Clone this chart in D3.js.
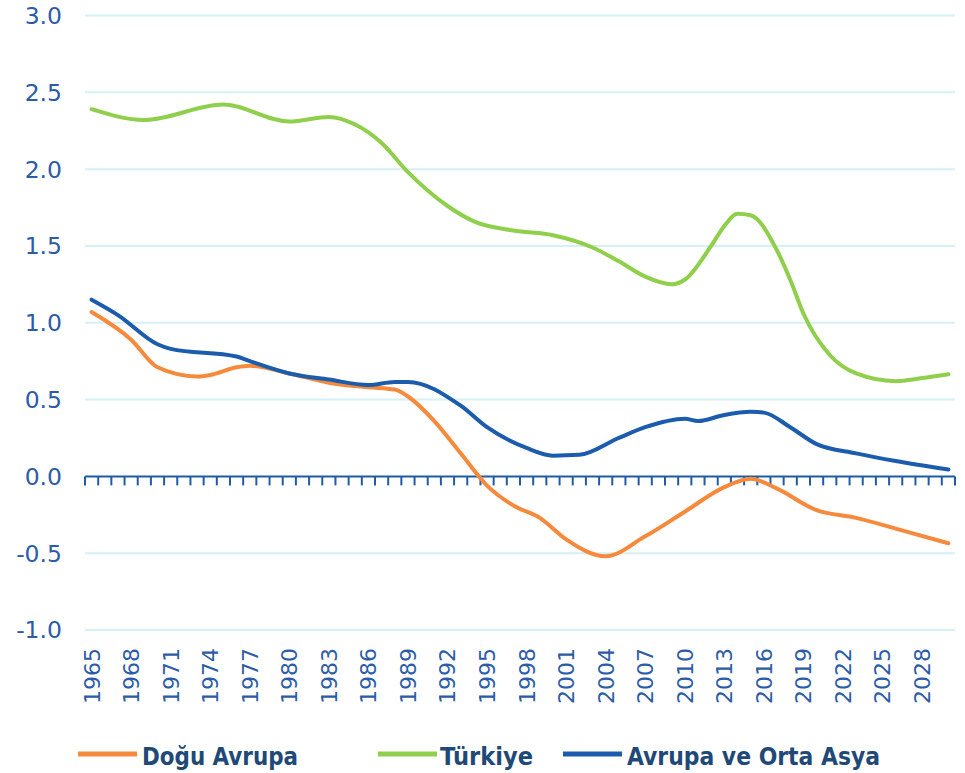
<!DOCTYPE html>
<html>
<head>
<meta charset="utf-8">
<script src="https://cdn.jsdelivr.net/npm/d3@7.9.0/dist/d3.min.js"></script>
<style>
  body { margin: 0; background: #fff; }
  svg { display: block; }
</style>
</head>
<body>
<div id="chart"></div>
<script>
// data (year -> value)
const years = d3.range(1965, 2031);
const xLabels = d3.range(1965, 2029, 3);
const yTicks = [-1, -0.5, 0, 0.5, 1, 1.5, 2, 2.5, 3];

const doguYears = [1965, 1968, 1970, 1973, 1974, 1976, 1977, 1980, 1983, 1986, 1988, 1989, 1991, 1993, 1995, 1997, 1999, 2001, 2004, 2007, 2010, 2013, 2015, 2017, 2020, 2023, 2026, 2030];
const doguValues = [1.07, 0.89, 0.71, 0.65, 0.66, 0.71, 0.72, 0.67, 0.61, 0.58, 0.565, 0.52, 0.36, 0.15, -0.06, -0.19, -0.27, -0.41, -0.52, -0.39, -0.23, -0.07, -0.015, -0.08, -0.22, -0.27, -0.34, -0.435];

const turkYears = [1965, 1969, 1975, 1980, 1983, 1985, 1987, 1989, 1992, 1994, 1997, 2000, 2003, 2005, 2007, 2009, 2010, 2012, 2013, 2014, 2015, 2017, 2018, 2019, 2021, 2023, 2026, 2028, 2030];
const turkValues = [2.39, 2.32, 2.42, 2.31, 2.34, 2.29, 2.17, 1.98, 1.76, 1.66, 1.6, 1.57, 1.49, 1.4, 1.3, 1.25, 1.28, 1.5, 1.63, 1.71, 1.7, 1.47, 1.28, 1.06, 0.79, 0.67, 0.62, 0.64, 0.665];

const aoaYears = [1965, 1967, 1970, 1971, 1976, 1977, 1980, 1983, 1986, 1988, 1989, 1993, 1995, 1998, 2000, 2002, 2005, 2007, 2010, 2011, 2013, 2015, 2016, 2018, 2020, 2023, 2026, 2030];
const aoaValues = [1.15, 1.05, 0.86, 0.83, 0.78, 0.75, 0.67, 0.63, 0.595, 0.615, 0.615, 0.46, 0.32, 0.185, 0.135, 0.14, 0.25, 0.32, 0.375, 0.36, 0.4, 0.42, 0.415, 0.32, 0.21, 0.15, 0.1, 0.045];

const seriesNames = ['Doğu Avrupa', 'Türkiye', 'Avrupa ve Orta Asya'];
const seriesColors = ['#f68a3c', '#8fcf4c', '#1b5cad'];

const series = [
  { name: seriesNames[0], color: seriesColors[0], pts: doguYears.map((y, i) => ({ year: y, v: doguValues[i] })) },
  { name: seriesNames[1], color: seriesColors[1], pts: turkYears.map((y, i) => ({ year: y, v: turkValues[i] })) },
  { name: seriesNames[2], color: seriesColors[2], pts: aoaYears.map((y, i) => ({ year: y, v: aoaValues[i] })) },
];

const width = 965;
const height = 773;
const plot = { left: 85, right: 955, top: 15.5, bottom: 630 };

const svg = d3.select('#chart').append('svg')
  .attr('width', width)
  .attr('height', height);

const x = d3.scaleBand().domain(years).range([plot.left, plot.right]).padding(0);
const y = d3.scaleLinear().domain([-1, 3]).range([plot.bottom, plot.top]);
const cx = (yr) => x(yr) + x.bandwidth() / 2;

// gridlines
svg.append('g')
  .selectAll('line')
  .data(yTicks.filter((d) => d !== 0))
  .join('line')
  .attr('x1', plot.left)
  .attr('x2', plot.right)
  .attr('y1', (d) => y(d))
  .attr('y2', (d) => y(d))
  .attr('stroke', '#d6f1f6')
  .attr('stroke-width', 2);

// y labels
svg.append('g')
  .selectAll('text')
  .data(yTicks)
  .join('text')
  .attr('x', 62)
  .attr('y', (d) => y(d))
  .attr('dy', '0.36em')
  .attr('text-anchor', 'end')
  .attr('font-family', 'DejaVu Sans, sans-serif')
  .attr('font-size', 23.5)
  .attr('fill', '#2c5ca8')
  .text((d) => d3.format('.1f')(d).replace('−', '-'));

// zero axis with ticks between categories
const axis = svg.append('g');
axis.append('line')
  .attr('x1', plot.left)
  .attr('x2', plot.right)
  .attr('y1', y(0))
  .attr('y2', y(0))
  .attr('stroke', '#1f5ba8')
  .attr('stroke-width', 2);
axis.selectAll('.tick')
  .data(years.concat([2031]))
  .join('line')
  .attr('class', 'tick')
  .attr('x1', (d) => (d === 2031 ? plot.right : x(d)))
  .attr('x2', (d) => (d === 2031 ? plot.right : x(d)))
  .attr('y1', y(0))
  .attr('y2', y(0) + 9)
  .attr('stroke', '#1f5ba8')
  .attr('stroke-width', 2);

// x labels, rotated
svg.append('g')
  .selectAll('text')
  .data(xLabels)
  .join('text')
  .attr('transform', (d) => `translate(${cx(d)}, 648) rotate(-90)`)
  .attr('dy', '0.36em')
  .attr('text-anchor', 'end')
  .attr('font-family', 'DejaVu Sans, sans-serif')
  .attr('font-size', 22)
  .attr('fill', '#2c5ca8')
  .text((d) => d);

// lines
const line = d3.line()
  .x((d) => cx(d.year))
  .y((d) => y(d.v))
  .curve(d3.curveMonotoneX);

svg.append('g')
  .selectAll('path')
  .data(series)
  .join('path')
  .attr('d', (d) => line(d.pts))
  .attr('fill', 'none')
  .attr('stroke', (d) => d.color)
  .attr('stroke-width', 4)
  .attr('stroke-linejoin', 'round')
  .attr('stroke-linecap', 'round');

// legend
const legendPos = [
  { lx: 78, tx: 142, tw: 156 },
  { lx: 378, tx: 440, tw: 93 },
  { lx: 563, tx: 627, tw: 253 },
];
const legend = svg.append('g');
series.forEach((s, i) => {
  const p = legendPos[i];
  legend.append('line')
    .attr('x1', p.lx)
    .attr('x2', p.lx + 59)
    .attr('y1', 754)
    .attr('y2', 754)
    .attr('stroke', s.color)
    .attr('stroke-width', 5);
  legend.append('text')
    .attr('x', p.tx)
    .attr('y', 765)
    .attr('font-family', 'DejaVu Sans, sans-serif')
    .attr('font-stretch', 'condensed')
    .attr('font-weight', 'bold')
    .attr('font-size', 24)
    .attr('fill', '#1f4a78')
    .attr('textLength', p.tw)
    .attr('lengthAdjust', 'spacingAndGlyphs')
    .text(s.name);
});
</script>
</body>
</html>
